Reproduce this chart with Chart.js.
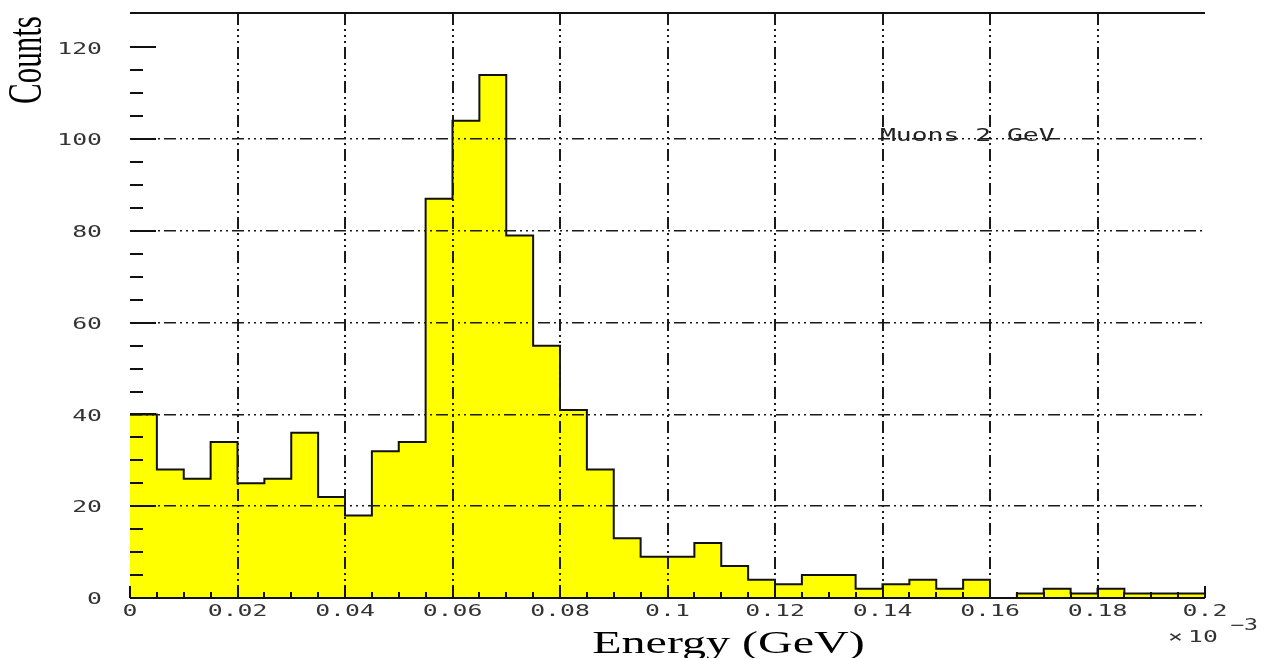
<!DOCTYPE html>
<html lang="en">
<head>
<meta charset="utf-8">
<title>Energy (GeV)</title>
<script src="https://cdn.jsdelivr.net/npm/chart.js@4.4.1/dist/chart.umd.min.js"></script>
<style>
  html, body { margin: 0; padding: 0; background: #fff; }
  canvas { display: block; }
</style>
</head>
<body>
<canvas id="histChart" width="1265" height="658"></canvas>
<script>
// ヒストグラム: 0〜0.2 (x10^-3 GeV) を 40 ビン
const binWidth = 0.005;
const counts = [
  40, 28, 26, 34, 25, 26, 36, 22, 18, 32,
  34, 87, 104, 114, 79, 55, 41, 28, 13, 9,
  9, 12, 7, 4, 3, 5, 5, 2, 3, 4,
  2, 4, 0, 1, 2, 1, 2, 1, 1, 1
];

// 目盛り
const xMajor = [0, 0.02, 0.04, 0.06, 0.08, 0.1, 0.12, 0.14, 0.16, 0.18, 0.2];
const yMajor = [0, 20, 40, 60, 80, 100, 120];
const yGridMax = 100;

const histLabel = "Muons 2 GeV";
const xTitle = "Energy (GeV)";
const yTitle = "Counts";

// 横に伸ばした文字 (元の出力が横長なので)
const stretchX = 1.55;

function isMajor(v, list) {
  return list.some((m) => Math.abs(m - v) < 1e-9);
}

function fmtX(v) {
  return String(+v.toFixed(3));
}

function stretchText(ctx, text, x, y, align, sx) {
  ctx.save();
  ctx.translate(x, y);
  ctx.scale(sx, 1);
  ctx.textAlign = align;
  ctx.fillText(text, 0, 0);
  ctx.restore();
}

// ステップ線用の点 (各ビンの左端 + 最後の右端)
const points = counts.map((c, i) => ({ x: +(i * binWidth).toFixed(3), y: c }));
points.push({ x: +(counts.length * binWidth).toFixed(3), y: counts[counts.length - 1] });

// 枠・内向きの目盛り・ラベル
const rootFrame = {
  id: "rootFrame",
  afterDraw(chart) {
    const { ctx, chartArea: a } = chart;
    const x = chart.scales.x;
    const y = chart.scales.y;

    ctx.save();
    ctx.strokeStyle = "#111";
    ctx.lineWidth = 2;
    ctx.beginPath();
    ctx.moveTo(a.left, a.top);
    ctx.lineTo(a.right, a.top);
    ctx.moveTo(a.left, a.bottom);
    ctx.lineTo(a.right, a.bottom);

    x.ticks.forEach((t) => {
      const px = Math.round(x.getPixelForValue(t.value));
      const len = isMajor(t.value, xMajor) ? 12 : 6;
      ctx.moveTo(px, a.bottom);
      ctx.lineTo(px, a.bottom - len);
    });
    y.ticks.forEach((t) => {
      if (t.value % 5 !== 0 || t.value > y.max) return;
      const py = Math.round(y.getPixelForValue(t.value));
      const len = isMajor(t.value, yMajor) ? 26 : 13;
      ctx.moveTo(a.left, py);
      ctx.lineTo(a.left + len, py);
    });
    ctx.stroke();

    // 目盛りラベル
    ctx.fillStyle = "#333";
    ctx.font = '16px "DejaVu Sans Mono"';
    ctx.textBaseline = "middle";
    xMajor.forEach((v) => {
      stretchText(ctx, fmtX(v), x.getPixelForValue(v), a.bottom + 14, "center", stretchX);
    });
    yMajor.forEach((v) => {
      stretchText(ctx, String(v), a.left - 28, y.getPixelForValue(v) + 2, "right", stretchX);
    });

    // x10^-3
    ctx.textBaseline = "alphabetic";
    stretchText(ctx, "\u00d7", 1168, 642, "left", stretchX);
    stretchText(ctx, "10", 1188, 642, "left", stretchX);
    ctx.font = '15px "DejaVu Sans Mono"';
    stretchText(ctx, "\u22123", 1230, 630, "left", stretchX);

    // 図中のラベル
    ctx.fillStyle = "#222";
    ctx.font = '17px "DejaVu Sans Mono"';
    stretchText(ctx, histLabel, 880, 141, "left", stretchX);

    // 軸タイトル
    ctx.fillStyle = "#000";
    ctx.font = '31px "Liberation Serif"';
    stretchText(ctx, xTitle, (a.left + a.right) / 2 + 61, 653, "center", stretchX);

    ctx.save();
    ctx.translate(41, 60);
    ctx.rotate(-Math.PI / 2);
    ctx.scale(1, stretchX);
    ctx.textAlign = "center";
    ctx.fillText(yTitle, 0, 0);
    ctx.restore();

    ctx.restore();
  },
};

const gridDash = [12, 4, 2, 4, 2, 4, 2, 4];

new Chart(document.getElementById("histChart"), {
  type: "line",
  data: {
    datasets: [
      {
        data: points,
        stepped: true,
        fill: "origin",
        backgroundColor: "#ffff00",
        borderColor: "#111",
        borderWidth: 2,
        pointRadius: 0,
        tension: 0,
      },
    ],
  },
  options: {
    responsive: false,
    animation: false,
    devicePixelRatio: 1,
    layout: { padding: { top: 13, right: 60, left: 0, bottom: 0 } },
    plugins: {
      legend: { display: false },
      tooltip: { enabled: false },
    },
    scales: {
      x: {
        type: "linear",
        min: 0,
        max: 0.2,
        afterFit: (s) => { s.height = 60; },
        ticks: { stepSize: binWidth, display: false, autoSkip: false },
        grid: {
          z: 1,
          drawTicks: false,
          lineWidth: 2,
          color: (c) => {
            const v = c.tick.value;
            return isMajor(v, xMajor) && v > 0 && v < 0.2 ? "#1a1a1a" : "transparent";
          },
        },
        border: { display: false, dash: gridDash },
      },
      y: {
        min: 0,
        max: 127.5,
        afterFit: (s) => { s.width = 130; },
        ticks: { stepSize: 5, display: false },
        grid: {
          z: 1,
          drawTicks: false,
          lineWidth: 1.5,
          color: (c) => {
            const v = c.tick.value;
            return isMajor(v, yMajor) && v > 0 && v <= yGridMax ? "#1a1a1a" : "transparent";
          },
        },
        border: { display: false, dash: gridDash },
      },
    },
  },
  plugins: [rootFrame],
});
</script>
</body>
</html>
